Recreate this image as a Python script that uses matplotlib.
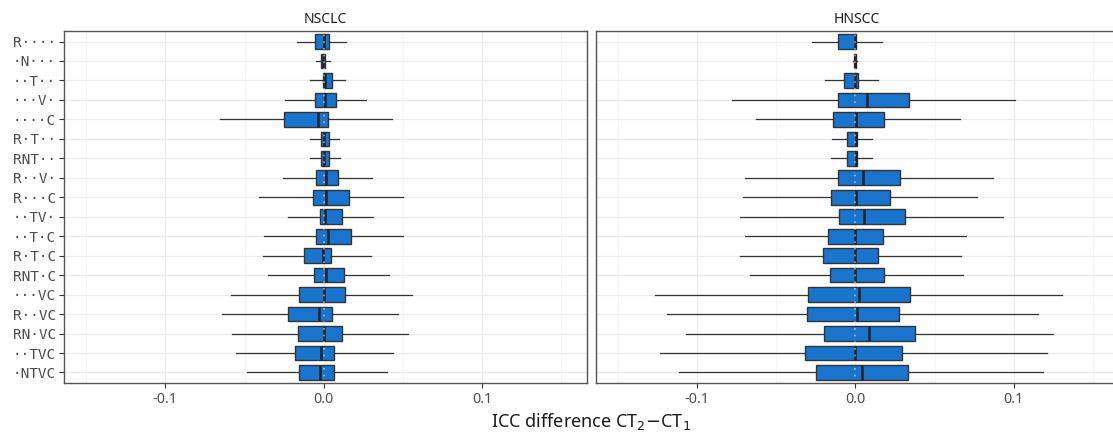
import numpy as np
import matplotlib
matplotlib.use("Agg")
import matplotlib.pyplot as plt
from matplotlib.ticker import MultipleLocator

plt.rcParams['font.family'] = ['Noto Sans', 'DejaVu Sans']

labels = ['R····', '·N···', '··T··', '···V·', '····C', 'R·T··', 'RNT··', 'R··V·', 'R···C',
          '··TV·', '··T·C', 'R·T·C', 'RNT·C', '···VC', 'R··VC', 'RN·VC', '··TVC', '·NTVC']

# NSCLC
nsclc_lo = [-0.0168, -0.0046, -0.0088, -0.0242, -0.0658, -0.0084, -0.0088, -0.0259, -0.0408,
            -0.0225, -0.0377, -0.0383, -0.0351, -0.0587, -0.0642, -0.0578, -0.0553, -0.0486]
nsclc_q1 = [-0.0055, -0.0015, -0.0006, -0.0055, -0.0250, -0.0017, -0.0019, -0.0050, -0.0067,
            -0.0025, -0.0049, -0.0126, -0.0063, -0.0158, -0.0225, -0.0162, -0.0183, -0.0156]
nsclc_med = [0.0004, -0.0004, 0.0010, 0.0008, -0.0038, 0.0004, 0.0004, 0.0015, 0.0017,
             0.0010, 0.0025, -0.0006, 0.0013, 0.0002, -0.0027, 0.0004, -0.0015, -0.0021]
nsclc_q3 = [0.0030, 0.0010, 0.0053, 0.0076, 0.0027, 0.0032, 0.0034, 0.0093, 0.0162,
            0.0112, 0.0175, 0.0046, 0.0128, 0.0132, 0.0053, 0.0118, 0.0067, 0.0067]
nsclc_hi = [0.0143, 0.0042, 0.0137, 0.0265, 0.0433, 0.0099, 0.0103, 0.0305, 0.0503,
            0.0311, 0.0498, 0.0301, 0.0415, 0.0560, 0.0467, 0.0534, 0.0440, 0.0397]

# HNSCC
hnscc_lo = [-0.0274, -0.0015, -0.0194, -0.0779, -0.0625, -0.0145, -0.0152, -0.0699, -0.0709,
            -0.0726, -0.0697, -0.0728, -0.0669, -0.1263, -0.1189, -0.1069, -0.1234, -0.1116]
hnscc_q1 = [-0.0109, -0.0008, -0.0072, -0.0109, -0.0143, -0.0051, -0.0055, -0.0112, -0.0156,
            -0.0103, -0.0175, -0.0206, -0.0162, -0.0299, -0.0309, -0.0200, -0.0316, -0.0248]
hnscc_med = [0.0000, 0.0000, 0.0000, 0.0074, 0.0006, 0.0002, 0.0002, 0.0046, 0.0006,
             0.0055, 0.0000, -0.0004, 0.0000, 0.0021, 0.0008, 0.0084, 0.0000, 0.0042]
hnscc_q3 = [0.0006, 0.0005, 0.0017, 0.0339, 0.0181, 0.0011, 0.0011, 0.0282, 0.0217,
            0.0314, 0.0175, 0.0145, 0.0179, 0.0347, 0.0278, 0.0379, 0.0295, 0.0330]
hnscc_hi = [0.0170, 0.0012, 0.0141, 0.1006, 0.0663, 0.0103, 0.0107, 0.0869, 0.0770,
            0.0933, 0.0695, 0.0669, 0.0682, 0.1307, 0.1154, 0.1244, 0.1208, 0.1183]

panels = [
    ('NSCLC', nsclc_lo, nsclc_q1, nsclc_med, nsclc_q3, nsclc_hi),
    ('HNSCC', hnscc_lo, hnscc_q1, hnscc_med, hnscc_q3, hnscc_hi),
]

W, H = 1113, 434
fig = plt.figure(figsize=(W / 100, H / 100), dpi=100)

# pixel boxes of the two panels (the right one runs off the picture edge)
boxes = [(64, 31, 586.7, 383), (595.7, 31, 1118.4, 383)]

fill = '#1874CD'
edge = '#333333'
pos = np.arange(1, len(labels) + 1)

for i, (title, lo, q1, med, q3, hi) in enumerate(panels):
    x0, y0, x1, y1 = boxes[i]
    ax = fig.add_axes([x0 / W, 1 - y1 / H, (x1 - x0) / W, (y1 - y0) / H])

    stats = []
    for j in range(len(labels)):
        stats.append({'whislo': lo[j], 'q1': q1[j], 'med': med[j], 'q3': q3[j], 'whishi': hi[j]})

    ax.bxp(stats, positions=pos, widths=0.75, orientation='horizontal', patch_artist=True,
           showcaps=False, showfliers=False,
           boxprops=dict(facecolor=fill, edgecolor=edge, linewidth=1.0),
           whiskerprops=dict(color=edge, linewidth=0.9),
           medianprops=dict(color='#222222', linewidth=1.8), zorder=3)

    # dotted zero line drawn over the boxes
    ax.axvline(0, color='white', alpha=0.55, linestyle=(0, (1, 3)), linewidth=1.2, zorder=5)

    ax.set_xlim(-0.164, 0.166)
    ax.set_ylim(18.54, 0.46)
    ax.xaxis.set_minor_locator(MultipleLocator(0.05))
    ax.set_xticks([-0.1, 0.0, 0.1])
    ax.set_xticklabels(['-0.1', '0.0', '0.1'])
    ax.grid(which='major', color='#ebebeb', linewidth=0.9, zorder=0)
    ax.grid(which='minor', axis='x', color='#f2f2f2', linewidth=0.5, zorder=0)
    ax.set_axisbelow(True)

    ax.tick_params(axis='x', labelsize=10.3, labelcolor='#4d4d4d', color='#333333',
                   length=3.5, width=0.8, pad=3)
    ax.tick_params(axis='x', which='minor', length=0)
    ax.set_yticks(pos)
    if i == 0:
        ax.set_yticklabels(labels, family=['DejaVu Sans Mono'], fontsize=10.4, color='#4d4d4d')
        ax.tick_params(axis='y', color='#333333', length=3.5, width=0.8, pad=2.5)
    else:
        ax.set_yticklabels([])
        ax.tick_params(axis='y', length=0)

    for s in ax.spines.values():
        s.set_color('#555555')
        s.set_linewidth(1.0)

    ax.set_title(title, fontsize=10, color='#1a1a1a', pad=6)

fig.text(591 / W, 1 - 422 / H, r'ICC difference CT$_2$$-$CT$_1$', ha='center', va='center',
         fontsize=13, color='#1a1a1a')

fig.savefig('out.png', dpi=100)
